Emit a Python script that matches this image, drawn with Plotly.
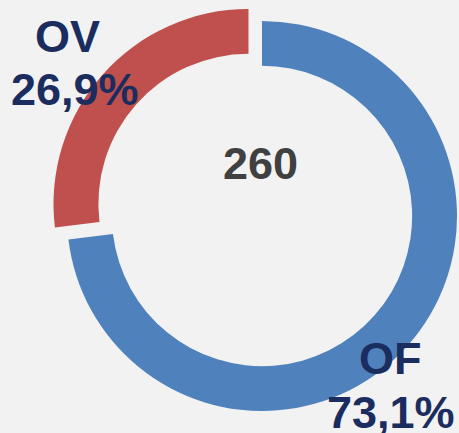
import plotly.graph_objects as go

# data
labels = ["OF", "OV"]
values = [190, 70]
colors = ["#4f81bd", "#c0504d"]

W, H = 459, 433
total = sum(values)
pcts = [v / total * 100 for v in values]
pct_text = [f"{p:.1f}".replace(".", ",") + "%" for p in pcts]


def dom(cx, cy, r):
    # pixel centre/radius -> paper domain
    return dict(x=[(cx - r) / W, (cx + r) / W], y=[(H - cy - r) / H, (H - cy + r) / H])


fig = go.Figure()

# OF ring (OV slot left transparent)
fig.add_trace(go.Pie(
    labels=labels, values=values, sort=False, direction="clockwise", rotation=0,
    hole=0.77, textinfo="none", hoverinfo="skip", showlegend=False,
    marker=dict(colors=[colors[0], "rgba(0,0,0,0)"], line=dict(width=0)),
    domain=dom(262, 216, 195),
))
# OV slice, exploded towards upper-left
fig.add_trace(go.Pie(
    labels=labels, values=values, sort=False, direction="clockwise", rotation=0,
    hole=0.77, textinfo="none", hoverinfo="skip", showlegend=False,
    marker=dict(colors=["rgba(0,0,0,0)", colors[1]], line=dict(width=0)),
    domain=dom(248.5, 204, 195),
))

navy = "#1b2c5f"
font = dict(family="Liberation Sans, Arial, sans-serif", size=45, color=navy)


def ann(text, x, y, **kw):
    f = dict(font)
    f.update(kw)
    fig.add_annotation(text=f"<b>{text}</b>", x=x / W, y=(H - y) / H, xref="paper", yref="paper",
                       showarrow=False, xanchor="center", yanchor="middle", font=f)


ann(labels[1], 67.5, 36.5)
ann(pct_text[1], 75, 90)
ann(labels[0], 390, 358.5)
ann(pct_text[0], 390.5, 412)
ann(str(total), 260, 163.5, color="#404040")

fig.update_layout(
    width=W, height=H,
    margin=dict(t=0, b=0, l=0, r=0),
    paper_bgcolor="#f2f2f2", plot_bgcolor="#f2f2f2",
)
fig.write_html(
    "out.html",
    config={"displayModeBar": False},
    post_script="document.body.style.margin='0';document.body.style.overflow='hidden';",
)
